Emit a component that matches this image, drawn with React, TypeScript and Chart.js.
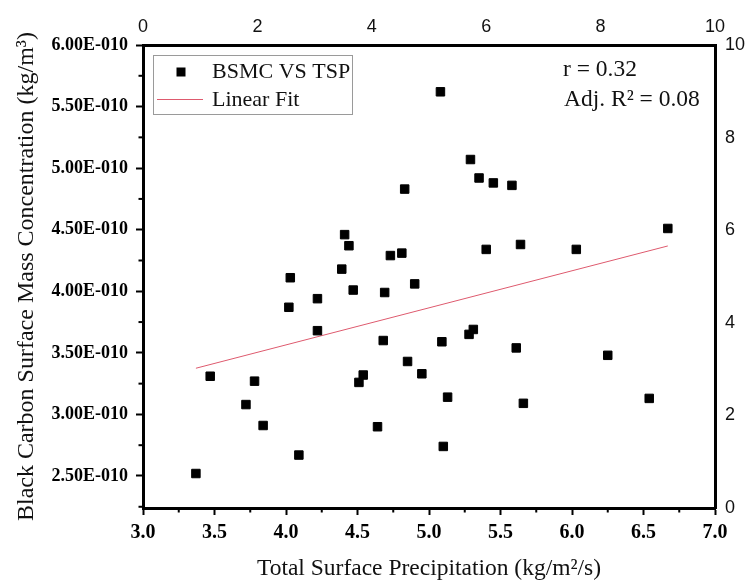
import React, { useEffect, useRef } from "react";
import { Chart, registerables } from "chart.js";

Chart.register(...registerables);

// Total Surface Precipitation (kg/m2/s)
const precipitation = [
  3.37, 3.47, 3.72, 3.78, 3.84, 4.02, 4.03, 4.09, 4.22, 4.22, 4.41, 4.44, 4.39, 4.47,
  4.51, 4.54, 4.64, 4.68, 4.69, 4.73, 4.81, 4.83, 4.85, 4.9, 4.95, 5.08, 5.09, 5.1,
  5.13, 5.28, 5.31, 5.29, 5.35, 5.4, 5.45, 5.58, 5.61, 5.64, 5.66, 6.03, 6.25, 6.54, 6.67,
];
// Black Carbon Surface Mass Concentration (kg/m3)
const bcConcentration = [
  2.52e-10, 3.31e-10, 3.08e-10, 3.27e-10, 2.91e-10, 3.87e-10, 4.11e-10, 2.67e-10,
  3.94e-10, 3.68e-10, 4.46e-10, 4.37e-10, 4.18e-10, 4.01e-10, 3.26e-10, 3.32e-10,
  2.9e-10, 3.6e-10, 3.99e-10, 4.29e-10, 4.31e-10, 4.83e-10, 3.43e-10, 4.06e-10,
  3.33e-10, 5.62e-10, 3.59e-10, 2.74e-10, 3.14e-10, 3.65e-10, 3.69e-10, 5.07e-10,
  4.92e-10, 4.34e-10, 4.88e-10, 4.86e-10, 3.54e-10, 4.38e-10, 3.09e-10, 4.34e-10,
  3.48e-10, 3.13e-10, 4.51e-10,
];
// Linear fit end points
const fitPrecipitation = [3.37, 6.67];
const fitConcentration = [3.375e-10, 4.368e-10];

const bottomTicks = [3.0, 3.5, 4.0, 4.5, 5.0, 5.5, 6.0, 6.5, 7.0];
const bottomMinorTicks = [3.25, 3.75, 4.25, 4.75, 5.25, 5.75, 6.25, 6.75];
const leftTicks = [2.5e-10, 3.0e-10, 3.5e-10, 4.0e-10, 4.5e-10, 5.0e-10, 5.5e-10, 6.0e-10];
const leftMinorTicks = [2.25e-10, 2.75e-10, 3.25e-10, 3.75e-10, 4.25e-10, 4.75e-10, 5.25e-10, 5.75e-10];
const topTicks = [0, 2, 4, 6, 8, 10];
const rightTicks = [0, 2, 4, 6, 8, 10];

const seriesLabel = "BSMC VS TSP";
const fitLabel = "Linear Fit";
const statLines = ["r = 0.32", "Adj. R\u00B2 = 0.08"];
const xTitle = "Total Surface Precipitation (kg/m\u00B2/s)";
const yTitle = "Black Carbon Surface Mass Concentration (kg/m\u00B3)";

const SERIF = '"Liberation Serif", "Times New Roman", serif';
const SANS = '"Liberation Sans", Arial, sans-serif';
const FIT_COLOR = "rgb(222, 90, 110)";

const overlayPlugin = {
  id: "overlay",
  afterDraw(chart: any) {
    const ctx = chart.ctx;
    const ca = chart.chartArea;
    const xs = chart.scales.x;
    const ys = chart.scales.y;
    ctx.save();
    ctx.fillStyle = "#000";
    // minor ticks
    leftMinorTicks.forEach((v) => {
      const py = ys.getPixelForValue(v);
      ctx.fillRect(ca.left - 4.5, py - 1, 3.5, 2);
    });
    bottomMinorTicks.forEach((v) => {
      const px = xs.getPixelForValue(v);
      ctx.fillRect(px - 1, ca.bottom + 1, 2, 3.5);
    });
    // legend box
    const lx = ca.left + 10;
    const ly = ca.top + 10;
    ctx.strokeStyle = "#9a9a9a";
    ctx.lineWidth = 1;
    ctx.strokeRect(Math.round(lx) + 0.5, Math.round(ly) + 0.5, 199, 59);
    ctx.fillStyle = "#000";
    ctx.fillRect(ca.left + 38 - 4.5, ca.top + 27 - 4.5, 9, 9);
    ctx.strokeStyle = FIT_COLOR;
    ctx.beginPath();
    ctx.moveTo(ca.left + 14, ca.top + 54.5);
    ctx.lineTo(ca.left + 60, ca.top + 54.5);
    ctx.stroke();
    ctx.font = `22px ${SERIF}`;
    ctx.textBaseline = "middle";
    ctx.textAlign = "left";
    ctx.fillStyle = "#111";
    ctx.fillText(seriesLabel, ca.left + 69, ca.top + 27);
    ctx.fillText(fitLabel, ca.left + 69, ca.top + 55);
    // statistics
    ctx.font = `23.5px ${SERIF}`;
    ctx.fillText(statLines[0], ca.right - 152, ca.top + 25);
    ctx.fillText(statLines[1], ca.right - 151, ca.top + 55);
    ctx.restore();
  },
};

export default function App() {
  const canvasRef = useRef<HTMLCanvasElement | null>(null);

  useEffect(() => {
    if (!canvasRef.current) return;
    const points = precipitation.map((x, i) => ({ x, y: bcConcentration[i] }));
    const fit = fitPrecipitation.map((x, i) => ({ x, y: fitConcentration[i] }));

    const chart = new Chart(canvasRef.current, {
      type: "scatter",
      data: {
        datasets: [
          {
            label: fitLabel,
            data: fit,
            showLine: true,
            borderColor: FIT_COLOR,
            borderWidth: 1,
            pointRadius: 0,
            xAxisID: "x",
            yAxisID: "y",
            order: 2,
          },
          {
            label: seriesLabel,
            data: points,
            pointStyle: "rect",
            pointRadius: 6,
            backgroundColor: "#000",
            borderColor: "#000",
            borderWidth: 1,
            xAxisID: "x",
            yAxisID: "y",
            order: 1,
          },
        ],
      },
      options: {
        responsive: false,
        animation: false,
        devicePixelRatio: 1,
        layout: { padding: 0 },
        plugins: {
          legend: { display: false },
          tooltip: { enabled: false },
          title: { display: false },
        },
        scales: {
          x: {
            type: "linear",
            position: "bottom",
            min: 3,
            max: 7,
            afterBuildTicks: (scale: any) => {
              scale.ticks = bottomTicks.map((v) => ({ value: v }));
            },
            afterFit: (scale: any) => {
              scale.height = 75;
            },
            ticks: {
              color: "#000",
              padding: 6,
              maxRotation: 0,
              autoSkip: false,
              font: { family: SERIF, size: 20, weight: "bold" },
              callback: (v: any) => Number(v).toFixed(1),
            },
            grid: {
              drawOnChartArea: false,
              drawTicks: true,
              tickLength: 7,
              tickWidth: 2,
              tickColor: "#000",
            },
            border: { display: true, color: "#000", width: 3 },
            title: {
              display: true,
              text: xTitle,
              color: "#111",
              font: { family: SERIF, size: 23.5 },
              padding: { top: 0, bottom: 0 },
            },
          },
          x2: {
            type: "linear",
            position: "top",
            min: 0,
            max: 10,
            afterBuildTicks: (scale: any) => {
              scale.ticks = topTicks.map((v) => ({ value: v }));
            },
            afterFit: (scale: any) => {
              scale.height = 45;
            },
            ticks: {
              color: "#111",
              padding: 7,
              maxRotation: 0,
              autoSkip: false,
              font: { family: SANS, size: 18 },
            },
            grid: { drawOnChartArea: false, drawTicks: false },
            border: { display: true, color: "#000", width: 3 },
          },
          y: {
            type: "linear",
            position: "left",
            min: 2.24e-10,
            max: 6.0e-10,
            afterBuildTicks: (scale: any) => {
              scale.ticks = leftTicks.map((v) => ({ value: v }));
            },
            afterFit: (scale: any) => {
              scale.width = 143;
            },
            ticks: {
              color: "#000",
              padding: 8,
              autoSkip: false,
              font: { family: SERIF, size: 18, weight: "bold" },
              callback: (v: any) => (Number(v) * 1e10).toFixed(2) + "E-010",
            },
            grid: {
              drawOnChartArea: false,
              drawTicks: true,
              tickLength: 7,
              tickWidth: 2,
              tickColor: "#000",
            },
            border: { display: true, color: "#000", width: 3 },
            title: {
              display: true,
              text: yTitle,
              color: "#111",
              font: { family: SERIF, size: 24 },
              padding: { top: 12, bottom: 0 },
            },
          },
          y2: {
            type: "linear",
            position: "right",
            min: 0,
            max: 10,
            afterBuildTicks: (scale: any) => {
              scale.ticks = rightTicks.map((v) => ({ value: v }));
            },
            afterFit: (scale: any) => {
              scale.width = 34;
            },
            ticks: {
              color: "#111",
              padding: 10,
              autoSkip: false,
              font: { family: SANS, size: 18 },
            },
            grid: { drawOnChartArea: false, drawTicks: false },
            border: { display: true, color: "#000", width: 3 },
          },
        },
      },
      plugins: [overlayPlugin],
    } as any);

    return () => chart.destroy();
  }, []);

  return (
    <div style={{ position: "absolute", left: 0, top: 0, width: 749, height: 583, background: "#fff" }}>
      <canvas ref={canvasRef} width={749} height={583} style={{ display: "block" }} />
    </div>
  );
}
